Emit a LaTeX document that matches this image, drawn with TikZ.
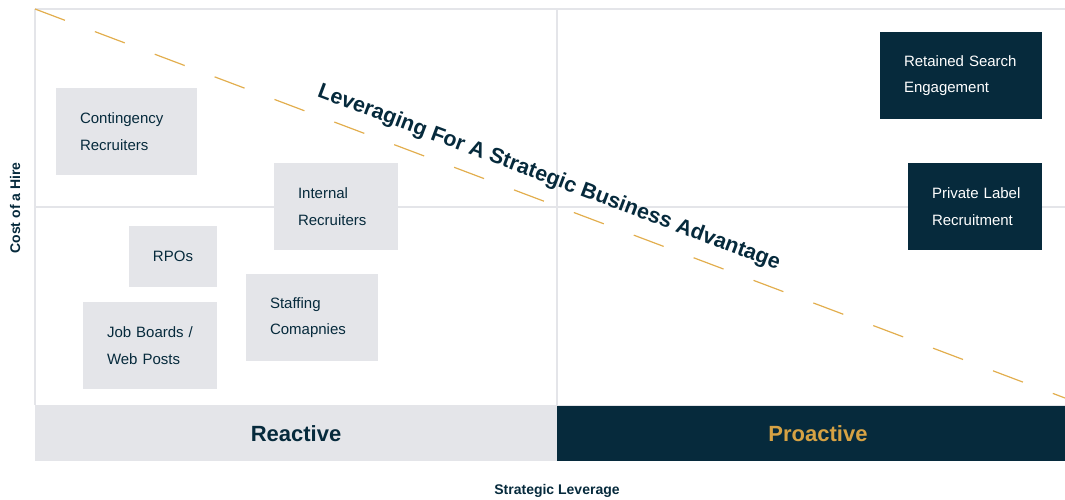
\documentclass[tikz,border=0pt]{standalone}
\usepackage{fontspec}
\setmainfont{Liberation Sans}
\definecolor{navy}{HTML}{062A3C}
\definecolor{boxgrey}{HTML}{E4E5E9}
\definecolor{gridgrey}{HTML}{E4E5E9}
\definecolor{dashorange}{HTML}{E2AE4E}
\definecolor{protext}{HTML}{D6A244}
\begin{document}
\begin{tikzpicture}[x=1pt,y=-1pt,
  gridline/.style={draw=gridgrey,line width=1.5pt},
  lightbox/.style={rectangle,fill=boxgrey,text=navy,inner xsep=24pt,inner ysep=0pt,
     align=left,minimum height=87pt,
     font=\fontsize{15}{26.5}\selectfont},
  darkbox/.style={lightbox,fill=navy,text=white},
  barlabel/.style={font=\fontsize{22}{26}\selectfont\bfseries},
  axislabel/.style={font=\fontsize{14}{16}\selectfont\bfseries,text=navy}]
\useasboundingbox (0,0) rectangle (1065,500);
% grid
\draw[gridline] (35,9) -- (1065,9);
\draw[gridline] (35,207) -- (1065,207);
\draw[gridline] (35,9) -- (35,405);
\draw[gridline] (557,9) -- (557,405);
% bars
\fill[boxgrey] (35,405) rectangle (557,461);
\fill[navy] (557,406) rectangle (1065,461);
\draw[gridline] (557,405.5) -- (1065,405.5);
\node[barlabel,text=navy] (reactive) at (296,433.5) {Reactive};
\node[barlabel,text=protext] (proactive) at (818,433.5) {Proactive};
% dashed diagonal
\coordinate (dstart) at (35,9);
\coordinate (dend) at (1065,398);
\draw[draw=dashorange,line width=1.2pt,dash pattern=on 32pt off 32pt] (dstart) -- (dend);
% title
\node[font=\fontsize{21.5}{24}\selectfont\bfseries,text=navy,rotate=-20.6,inner sep=0pt] (title) at (549,178) {Leveraging For A Strategic Business Advantage};
% boxes
\node[lightbox,text width=93pt] (cont) at (126.5,131.5) {\mbox{Contingency}\\\mbox{Recruiters}};
\node[lightbox,text width=76pt] (internal) at (336,206.5) {\mbox{Internal}\\\mbox{Recruiters}};
\node[lightbox,align=center,inner xsep=0pt,minimum width=88pt,minimum height=61pt] (rpo) at (173,256.5) {RPOs};
\node[lightbox,text width=86pt] (job) at (150,345.5) {\mbox{Job Boards /}\\\mbox{Web Posts}};
\node[lightbox,text width=84pt] (staff) at (312,317.5) {\mbox{Staffing}\\\mbox{Comapnies}};
\node[darkbox,text width=114pt] (retained) at (961,75.5) {\mbox{Retained Search}\\\mbox{Engagement}};
\node[darkbox,text width=86pt] (private) at (975,206.5) {\mbox{Private Label}\\\mbox{Recruitment}};
% axis labels
\node[axislabel,rotate=90] (ylab) at (15,208) {Cost of a Hire};
\node[axislabel] (xlab) at (557,491) {Strategic Leverage};
\end{tikzpicture}
\end{document}
